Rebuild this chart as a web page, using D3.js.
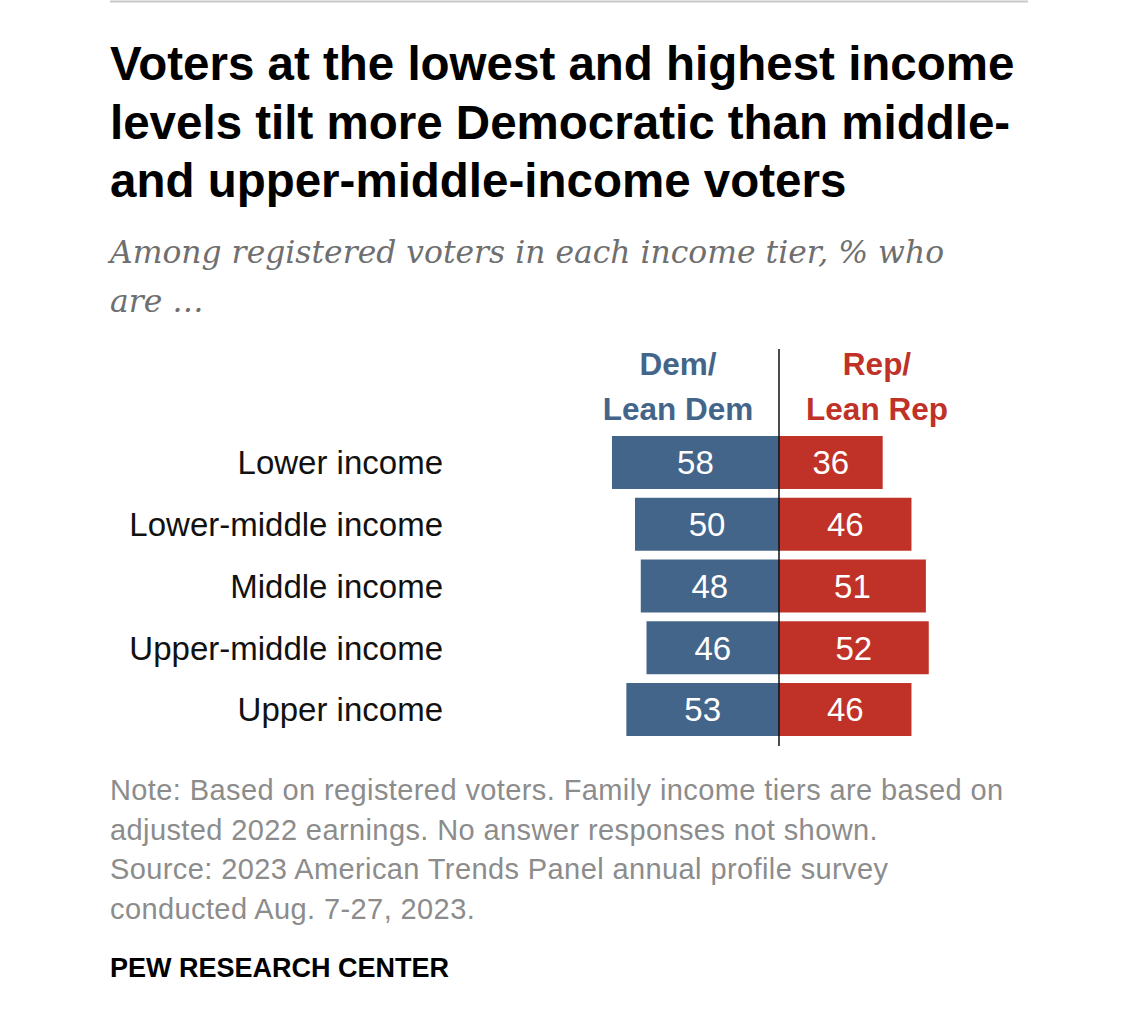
<!DOCTYPE html>
<html>
<head>
<meta charset="utf-8">
<script src="https://cdn.jsdelivr.net/npm/d3@7"></script>
<style>
  body { margin: 0; background: #fff; }
  svg { display: block; }
</style>
</head>
<body>
<div id="chart"></div>
<script>
const categories = ["Lower income", "Lower-middle income", "Middle income", "Upper-middle income", "Upper income"];
const demValues = [58, 50, 48, 46, 53];
const repValues = [36, 46, 51, 52, 46];
const seriesLabels = [["Dem/", "Lean Dem"], ["Rep/", "Lean Rep"]];

const titleLines = [
  "Voters at the lowest and highest income",
  "levels tilt more Democratic than middle-",
  "and upper-middle-income voters"
];
const subtitleLines = [
  "Among registered voters in each income tier, % who",
  "are \u2026"
];
const noteLines = [
  "Note: Based on registered voters. Family income tiers are based on",
  "adjusted 2022 earnings. No answer responses not shown.",
  "Source: 2023 American Trends Panel annual profile survey",
  "conducted Aug. 7-27, 2023."
];

const demColor = "#44658a";
const repColor = "#c03227";
const sans = "'Liberation Sans', Arial, sans-serif";

let svg = d3.select("#chart").append("svg")
    .attr("width", 1125)
    .attr("height", 1025);

// thin rule at top
svg.append("line")
    .attr("x1", 110).attr("x2", 1028)
    .attr("y1", 1.5).attr("y2", 1.5)
    .attr("stroke", "#c8c8c8")
    .attr("stroke-width", 2);

svg.append("g").selectAll("text")
    .data(titleLines)
    .join("text")
    .attr("x", 110)
    .attr("y", (d, i) => 80 + i * 58.5)
    .attr("font-family", sans)
    .attr("font-weight", "bold")
    .attr("font-size", 47.5)
    .attr("fill", "#000")
    .text(d => d);

svg.append("g").selectAll("text")
    .data(subtitleLines)
    .join("text")
    .attr("x", 110)
    .attr("y", (d, i) => 263 + i * 49)
    .attr("font-family", "'DejaVu Serif', Georgia, serif")
    .attr("font-style", "italic")
    .attr("font-size", 31.4)
    .attr("fill", "#6f6f6f")
    .text(d => d);

// chart
let axisX = 779;
let x = d3.scaleLinear().domain([0, 100]).range([0, 288]);
let y = d3.scaleBand().domain(categories).range([436, 736]).paddingInner(0.142);

let rows = svg.append("g").selectAll("g")
    .data(categories)
    .join("g");

rows.append("text")
    .attr("x", 443)
    .attr("y", d => y(d) + y.bandwidth() / 2)
    .attr("dy", "0.36em")
    .attr("text-anchor", "end")
    .attr("font-family", sans)
    .attr("font-size", 33)
    .attr("fill", "#111")
    .text(d => d);

rows.append("rect")
    .attr("x", (d, i) => axisX - x(demValues[i]))
    .attr("y", d => y(d))
    .attr("width", (d, i) => x(demValues[i]))
    .attr("height", y.bandwidth())
    .attr("fill", demColor);

rows.append("rect")
    .attr("x", axisX)
    .attr("y", d => y(d))
    .attr("width", (d, i) => x(repValues[i]))
    .attr("height", y.bandwidth())
    .attr("fill", repColor);

rows.append("text")
    .attr("x", (d, i) => axisX - x(demValues[i]) / 2)
    .attr("y", d => y(d) + y.bandwidth() / 2)
    .attr("dy", "0.36em")
    .attr("text-anchor", "middle")
    .attr("font-family", sans)
    .attr("font-size", 33)
    .attr("fill", "#fff")
    .text((d, i) => demValues[i]);

rows.append("text")
    .attr("x", (d, i) => axisX + x(repValues[i]) / 2)
    .attr("y", d => y(d) + y.bandwidth() / 2)
    .attr("dy", "0.36em")
    .attr("text-anchor", "middle")
    .attr("font-family", sans)
    .attr("font-size", 33)
    .attr("fill", "#fff")
    .text((d, i) => repValues[i]);

svg.append("line")
    .attr("x1", axisX).attr("x2", axisX)
    .attr("y1", 349).attr("y2", 746)
    .attr("stroke", "#111")
    .attr("stroke-width", 1.5);

// column headers
let headerX = [678, 877];
let headerColor = [demColor, repColor];
seriesLabels.forEach((lines, k) => {
  svg.append("g").selectAll("text")
      .data(lines)
      .join("text")
      .attr("x", headerX[k])
      .attr("y", (d, i) => 375 + i * 45)
      .attr("text-anchor", "middle")
      .attr("font-family", sans)
      .attr("font-weight", "bold")
      .attr("font-size", 31.5)
      .attr("fill", headerColor[k])
      .text(d => d);
});

svg.append("g").selectAll("text")
    .data(noteLines)
    .join("text")
    .attr("x", 110)
    .attr("y", (d, i) => 800 + i * 39.5)
    .attr("font-family", sans)
    .attr("font-size", 29)
    .attr("letter-spacing", 0.4)
    .attr("fill", "#8c8c8c")
    .text(d => d);

svg.append("text")
    .attr("x", 110)
    .attr("y", 977)
    .attr("font-family", sans)
    .attr("font-weight", "bold")
    .attr("font-size", 27)
    .attr("fill", "#000")
    .text("PEW RESEARCH CENTER");
</script>
</body>
</html>
